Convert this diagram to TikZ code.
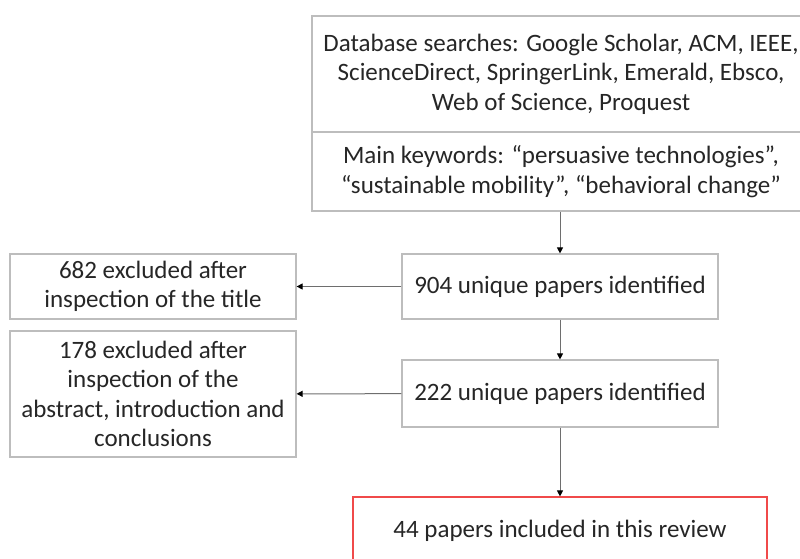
\documentclass[tikz,border=0pt]{standalone}
\usepackage{fontspec}
\setmainfont{Carlito}
\usetikzlibrary{arrows.meta}
\definecolor{boxgray}{HTML}{BDBDBD}
\definecolor{linegray}{HTML}{6E6E6E}
\definecolor{txt}{HTML}{262626}
\definecolor{boxred}{HTML}{F04A4A}
\tikzset{
	stage/.style={draw=boxgray, line width=1.2pt, fill=white, align=center, text=txt, inner sep=0pt,
		font=\fontsize{25}{29.5}\selectfont},
	link/.style={draw=linegray, line width=1pt, -{Triangle[length=6pt,width=6pt,color=black]}}
}

\begin{document}
\begin{tikzpicture}[x=1pt, y=1pt]
			%%%%% START %%%%%
			
			\useasboundingbox (0, 0) rectangle (800, -558);
			\clip (0, 0) rectangle (800, -558);
			
			\node[stage, minimum width=498, minimum height=116] (db) at (561, -74)
				{Database searches: Google Scholar, ACM, IEEE,\\ ScienceDirect, SpringerLink, Emerald, Ebsco,\\ Web of Science, Proquest};
			\node[stage, minimum width=498, minimum height=79] (kw) at (561, -171.5)
				{Main keywords: “persuasive technologies”,\\ “sustainable mobility”, “behavioral change”};
			
			\node[stage, minimum width=316, minimum height=65] (found) at (560, -286.5) {904 unique papers identified};
			\node[stage, minimum width=316, minimum height=67] (kept) at (560, -393.5) {222 unique papers identified};
			
			\node[stage, minimum width=286, minimum height=65] (title) at (153, -286.5) {682 excluded after\\ inspection of the title};
			\node[stage, minimum width=286, minimum height=126] (abstract) at (153, -394) {178 excluded after\\ inspection of the\\ abstract, introduction and\\ conclusions};
			
			\node[stage, draw=boxred, minimum width=414, minimum height=80] (review) at (560, -537) {};
			\node[text=txt, font=\fontsize{25}{29.5}\selectfont] (reviewtext) at (560, -531) {44 papers included in this review};
			
			\draw[link] (kw.south -| found.north) -- (found.north);
			\draw[link] (found) -- (kept);
			\draw[link] (kept) -- (review);
			\draw[link] (found) -- (title);
			\draw[link] (kept) -- (abstract);
			
			%%%%% END %%%%%
\end{tikzpicture}
\end{document}
